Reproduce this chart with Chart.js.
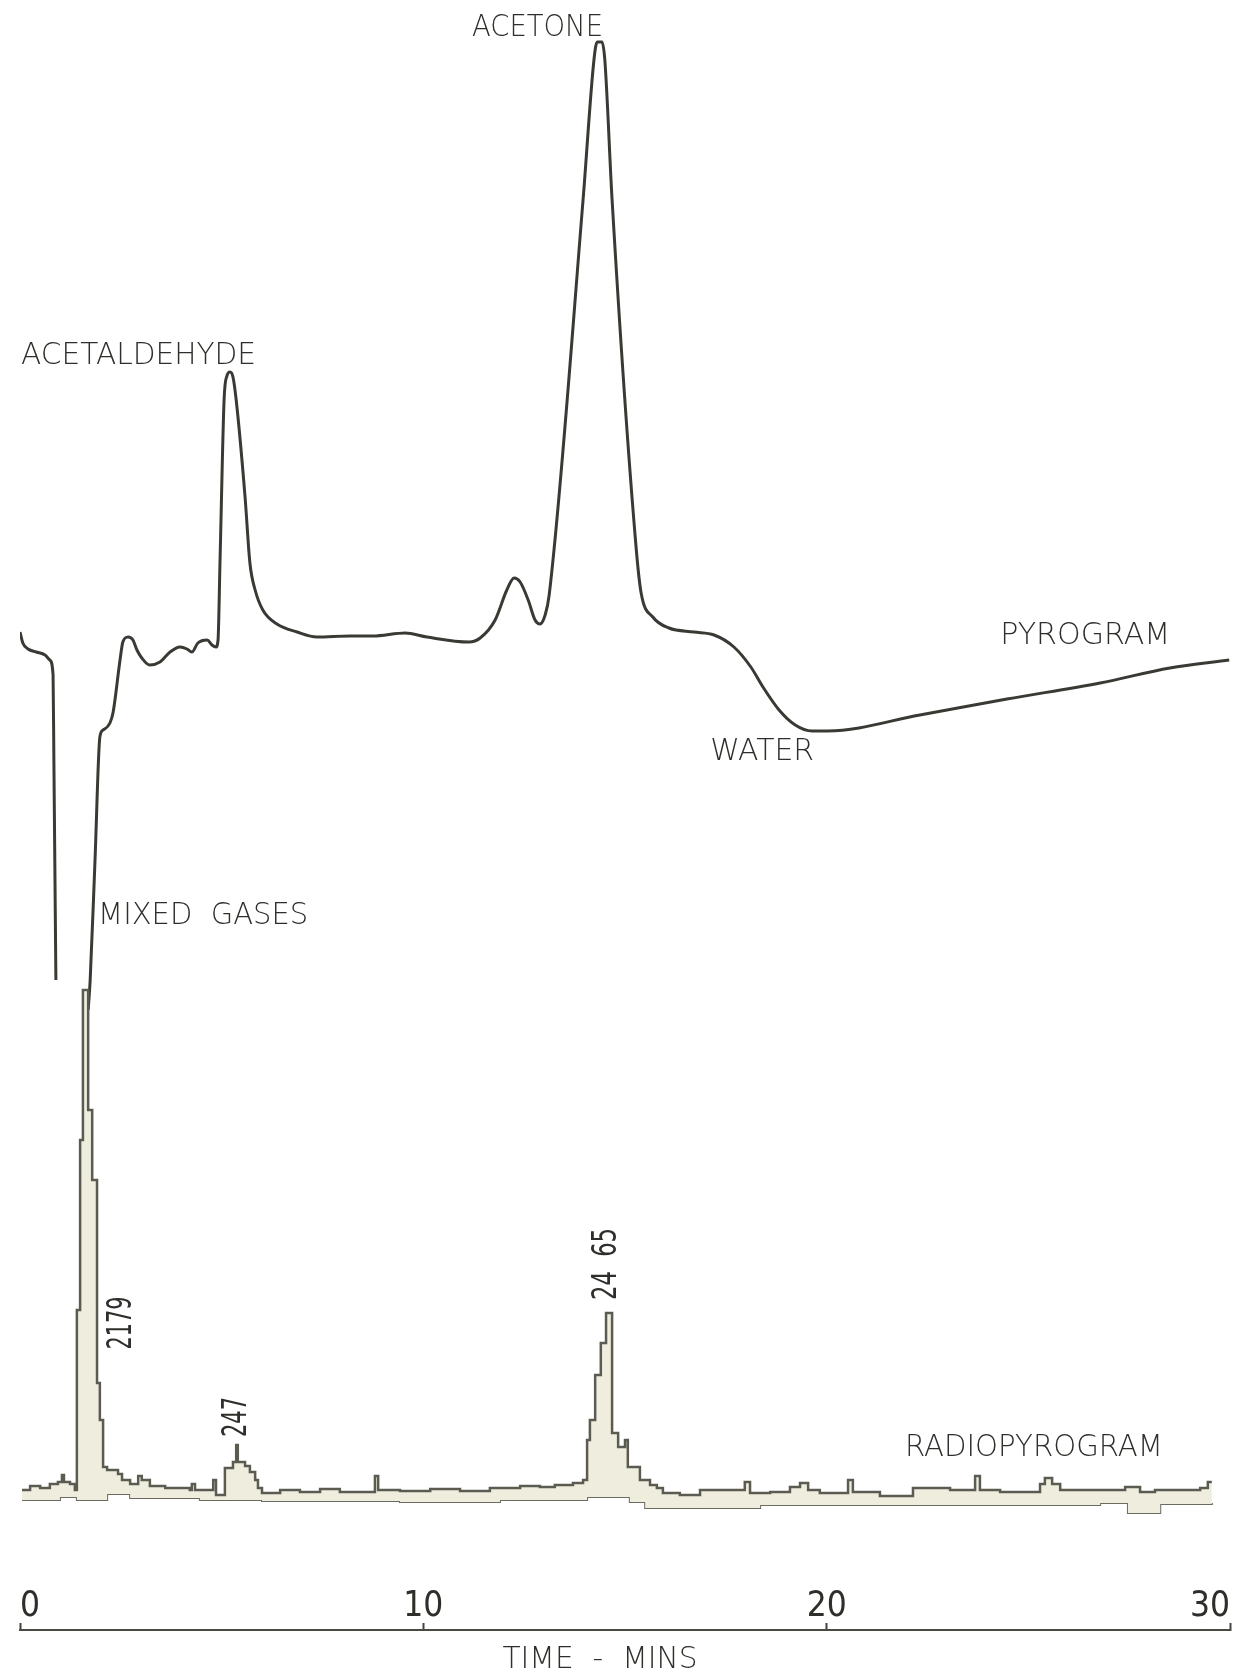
<!DOCTYPE html>
<html>
<head>
<meta charset="utf-8">
<script src="https://cdn.jsdelivr.net/npm/chart.js@4.4.1/dist/chart.umd.min.js"></script>
<style>
  html, body { margin: 0; padding: 0; background: #fff; }
  #wrap { width: 1238px; height: 1677px; position: relative; }
</style>
</head>
<body>
<div id="wrap"><canvas id="pyroChart"></canvas></div>
<script>
/* pyrogram (thermal conductivity trace), time in minutes */
var pyroTime = [
  0.00, 0.07, 0.20, 0.40, 0.62, 0.74, 0.82, 0.84, 0.89, 1.29,
  1.69, 1.74, 1.86, 1.98, 2.06, 2.23, 2.31, 2.48, 2.55, 2.68,
  2.80, 2.90, 3.02, 3.22, 3.47, 3.72, 3.97, 4.14, 4.26, 4.41,
  4.64, 4.76, 4.86, 4.91, 4.96, 5.06, 5.13, 5.21, 5.28, 5.36,
  5.58, 5.70, 5.83, 6.02, 6.37, 6.87, 7.36, 8.18, 8.75, 9.55,
  10.09, 11.13, 11.41, 11.78, 12.07, 12.25, 12.40, 12.60, 12.77, 12.89,
  13.02, 13.12, 13.96, 14.23, 14.31, 14.43, 14.50, 14.68, 15.27, 15.40,
  15.69, 16.09, 16.71, 17.21, 17.70, 18.12, 18.42, 18.82, 19.22, 19.64,
  20.03, 22.31, 24.47, 26.78, 28.51, 29.98
];
var pyroSignal = [
  99.8, 98.7, 98.1, 97.8, 97.5, 97.0, 95.5, 87.0, 65.0, null,
  62.0, 65.0, 77.0, 89.3, 90.0, 90.7, 91.8, 97.0, 98.8, 99.3,
  99.0, 98.0, 97.2, 96.5, 96.8, 97.8, 98.3, 98.1, 97.8, 98.7,
  99.0, 98.5, 98.3, 99.0, 107.0, 123.0, 125.4, 125.8, 125.3, 123.0,
  113.3, 106.7, 104.0, 102.0, 100.6, 99.8, 99.3, 99.4, 99.4, 99.7,
  99.3, 98.8, 99.2, 101.0, 104.0, 105.2, 104.8, 103.0, 101.0, 100.6,
  101.5, 103.5, 143.0, 157.0, 158.8, 158.8, 157.0, 143.0, 108.5, 103.7,
  101.3, 100.2, 99.8, 99.5, 98.3, 96.3, 94.3, 92.0, 90.5, 89.9,
  89.9, 91.5, 93.1, 94.7, 96.2, 97.0
];

/* radiopyrogram (counter trace): upper and lower edge of the pen band */
var radioTime = [
  0.05, 0.25, 0.50, 0.74, 0.94, 1.04, 1.09, 1.24, 1.36, 1.41,
  1.49, 1.56, 1.69, 1.79, 1.91, 1.98, 2.06, 2.16, 2.43, 2.53,
  2.73, 2.93, 3.02, 3.22, 3.60, 4.21, 4.26, 4.34, 4.79, 4.86,
  5.08, 5.28, 5.36, 5.40, 5.58, 5.70, 5.83, 5.90, 6.00, 6.45,
  6.94, 7.44, 7.93, 8.80, 8.88, 9.42, 10.17, 10.91, 11.65, 12.40,
  12.89, 13.26, 13.71, 13.96, 14.06, 14.13, 14.26, 14.40, 14.53, 14.68,
  14.83, 15.00, 15.07, 15.37, 15.62, 15.79, 15.94, 16.36, 16.86, 17.36,
  17.97, 18.10, 18.60, 19.09, 19.34, 19.54, 19.83, 20.53, 20.65, 21.32,
  22.14, 23.06, 23.68, 23.80, 24.30, 25.29, 25.41, 25.59, 25.79, 26.53,
  27.40, 27.77, 28.14, 28.64, 29.26, 29.45, 29.55
];
var radioTop = [
  14.0, 14.4, 14.2, 14.6, 14.8, 15.5, 14.8, 14.6, 14.0, 32.0,
  49.0, 64.0, 52.0, 45.0, 24.7, 21.0, 16.3, 16.0, 15.6, 15.0,
  14.6, 15.4, 15.0, 14.4, 14.2, 14.0, 14.6, 14.0, 15.0, 13.5,
  16.2, 16.8, 18.5, 16.8, 16.4, 15.8, 15.0, 14.2, 13.7, 14.0,
  13.8, 14.1, 13.8, 15.4, 14.0, 13.9, 14.1, 13.9, 14.2, 14.4,
  14.3, 14.5, 14.7, 15.0, 19.0, 21.0, 25.5, 28.7, 31.7, 19.7,
  18.3, 19.0, 16.3, 15.0, 14.5, 14.2, 13.7, 13.5, 14.0, 14.0,
  14.8, 13.7, 13.8, 14.3, 14.7, 14.0, 13.7, 15.0, 13.8, 13.4,
  14.2, 14.0, 15.4, 14.0, 13.8, 14.6, 15.2, 14.6, 14.0, 14.0,
  14.3, 13.8, 14.0, 14.0, 14.2, 14.8, 14.8
];
var radioLowTime = [
  0.05, 0.99, 1.41, 2.16, 2.73, 4.46, 6.00, 9.42, 11.90, 14.06,
  15.12, 15.50, 18.35, 26.78, 27.47, 28.27, 29.55
];
var radioLow = [
  13.0, 13.3, 13.0, 13.6, 13.2, 13.0, 12.9, 12.8, 13.0, 13.3,
  12.8, 12.2, 12.5, 12.7, 11.7, 12.6, 12.5
];

var timeTicks = [0, 10, 20, 30];

/* peak names and counts, placed in data units (minutes, response) */
var peakLabels = [
  { text: 'ACETONE', t: 12.83, v: 160.2, w: 131 },
  { text: 'ACETALDEHYDE', t: 2.94, v: 127.4, w: 235 },
  { text: 'MIXED  GASES', t: 4.54, v: 71.4, w: 210 },
  { text: 'PYROGRAM', t: 26.41, v: 99.4, w: 170 },
  { text: 'WATER', t: 18.40, v: 87.8, w: 104 },
  { text: 'RADIOPYROGRAM', t: 25.14, v: 18.2, w: 258 },
  { text: 'TIME  -  MINS', t: 14.38, v: -3.0, w: 195 },
  { text: '2179', t: 2.53, v: 30.7, w: 53, rot: true },
  { text: '247', t: 5.38, v: 21.3, w: 40, rot: true },
  { text: '24  65', t: 14.55, v: 36.6, w: 72, rot: true }
];

function pts(xs, ys) {
  return xs.map(function (x, i) { return { x: x, y: ys[i] }; });
}

var labelPlugin = {
  id: 'peakLabels',
  afterDraw: function (chart) {
    var ctx = chart.ctx;
    var xs = chart.scales.x, ys = chart.scales.y;
    peakLabels.forEach(function (l) {
      ctx.save();
      ctx.translate(xs.getPixelForValue(l.t), ys.getPixelForValue(l.v));
      if (l.rot) ctx.rotate(-Math.PI / 2);
      ctx.font = l.rot ? '34px "Liberation Sans Narrow", "DejaVu Sans Condensed", sans-serif'
                       : '300 30px "DejaVu Sans", sans-serif';
      var w = ctx.measureText(l.text).width;
      ctx.scale(l.w / w, 1);
      ctx.textAlign = 'center';
      ctx.textBaseline = 'middle';
      ctx.fillStyle = '#2e2e2a';
      ctx.fillText(l.text, 0, 0);
      ctx.restore();
    });
  }
};

var ctx = document.getElementById('pyroChart');

var pyroChart = new Chart(ctx, {
  type: 'line',
  data: {
    datasets: [
      {
        label: 'Radiopyrogram',
        data: pts(radioTime, radioTop),
        stepped: true,
        borderColor: '#5b5b52',
        borderWidth: 2.5,
        backgroundColor: '#eeedde',
        fill: '+1',
        pointRadius: 0,
      },
      {
        label: 'Radiopyrogram low',
        data: pts(radioLowTime, radioLow),
        stepped: true,
        borderColor: '#6b6b62',
        borderWidth: 2,
        fill: false,
        pointRadius: 0,
      },
      {
        label: 'Pyrogram',
        data: pts(pyroTime, pyroSignal),
        cubicInterpolationMode: 'monotone',
        borderColor: '#3a3a35',
        borderWidth: 3,
        fill: false,
        spanGaps: false,
        pointRadius: 0,
      },
    ],
  },
  options: {
    responsive: true,
    maintainAspectRatio: false,
    animation: false,
    layout: { padding: { left: 20, right: 8, top: 0, bottom: 47 } },
    plugins: { legend: { display: false }, tooltip: { enabled: false } },
    scales: {
      x: {
        type: 'linear',
        position: { y: 0 },
        min: 0,
        max: 30,
        afterBuildTicks: function (s) {
          s.ticks = timeTicks.map(function (v) { return { value: v }; });
        },
        afterFit: function (s) {
          s.paddingLeft = 0;
          s.paddingRight = 0;
        },
        grid: {
          drawOnChartArea: false,
          drawTicks: true,
          tickLength: -8,
          tickWidth: 2,
          tickColor: '#444',
        },
        border: { display: true, color: '#4a4a44', width: 2 },
        ticks: {
          padding: -36,
          align: 'inner',
          maxRotation: 0,
          autoSkip: false,
          color: '#2e2e2a',
          font: { family: '"Liberation Sans Narrow", "DejaVu Sans Condensed", sans-serif', size: 35 },
        },
      },
      y: {
        display: false,
        min: 0,
        max: 163,
      },
    },
  },
  plugins: [labelPlugin],
});
</script>
</body>
</html>
